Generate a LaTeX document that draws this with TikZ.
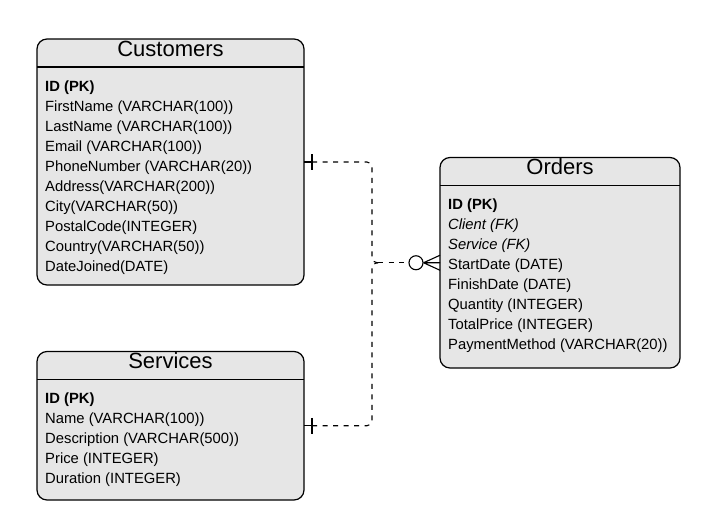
\documentclass[tikz,border=0pt]{standalone}
\usepackage{fontspec}
\setmainfont{Liberation Sans}
\definecolor{boxgray}{HTML}{E6E6E6}
\begin{document}
\begin{tikzpicture}[x=1pt,y=1pt,
  entity/.style={draw=black, fill=boxgray, rounded corners=10pt, line width=1.2pt, inner sep=0pt, outer sep=0pt, anchor=north west},
  hdrline/.style={line width=1.2pt},
  title/.style={anchor=base, inner sep=0pt, font=\fontsize{22}{26}\selectfont},
  row/.style={anchor=base west, inner sep=0pt, font=\fontsize{14.8}{20}\selectfont},
  rel/.style={line width=1.1pt, dash pattern=on 5pt off 5.5pt, rounded corners=5pt},
  solidrel/.style={line width=1.1pt}
]
\useasboundingbox (0,0) rectangle (713,-528);

% Customers
\node[entity, minimum width=267pt, minimum height=246pt] (cust) at (37,-39) {};
\draw[hdrline] ([yshift=-28pt]cust.north west) -- ([yshift=-28pt]cust.north east);
\node[title] (custT) at ([yshift=-17pt]cust.north) {Customers};
\node[row] (c0) at (45,-91.7) {\bfseries ID (PK)};
\foreach \t [count=\i] in {FirstName (VARCHAR(100)),LastName (VARCHAR(100)),Email (VARCHAR(100)),PhoneNumber (VARCHAR(20)),Address(VARCHAR(200)),City(VARCHAR(50)),PostalCode(INTEGER),Country(VARCHAR(50)),DateJoined(DATE)}
  \node[row] (c\i) at (45,-91.7-20*\i) {\t};

% Orders
\node[entity, minimum width=240pt, minimum height=210.5pt] (ord) at (440,-157.5) {};
\draw[hdrline] ([yshift=-28pt]ord.north west) -- ([yshift=-28pt]ord.north east);
\node[title] (ordT) at ([yshift=-17pt]ord.north) {Orders};
\node[row] (o0) at (448,-209.7) {\bfseries ID (PK)};
\node[row] (o1) at (448,-229.7) {\itshape Client (FK)};
\node[row] (o2) at (448,-249.7) {\itshape Service (FK)};
\foreach \t [count=\i from 3] in {StartDate (DATE),FinishDate (DATE),Quantity (INTEGER),TotalPrice (INTEGER),PaymentMethod (VARCHAR(20))}
  \node[row] (o\i) at (448,-209.7-20*\i) {\t};

% Services
\node[entity, minimum width=267pt, minimum height=148.5pt] (serv) at (37,-351.5) {};
\draw[hdrline] ([yshift=-28pt]serv.north west) -- ([yshift=-28pt]serv.north east);
\node[title] (servT) at ([yshift=-17pt]serv.north) {Services};
\node[row] (s0) at (45,-403.7) {\bfseries ID (PK)};
\foreach \t [count=\i] in {Name (VARCHAR(100)),Description (VARCHAR(500)),Price (INTEGER),Duration (INTEGER)}
  \node[row] (s\i) at (45,-403.7-20*\i) {\t};

% Relationships
\coordinate (mx) at (372,0);
\coordinate (jn) at (mx |- ord.west);
\node[circle, draw, line width=1.1pt, minimum size=14pt, inner sep=0pt, fill=white] (zc) at ([xshift=-24pt]ord.west) {};

\draw[solidrel] (cust.east) -- ([xshift=8pt]cust.east);
\draw[solidrel] ([xshift=8pt,yshift=8pt]cust.east) -- ([xshift=8pt,yshift=-8pt]cust.east);
\draw[rel] ([xshift=8pt]cust.east) -- (cust.east -| mx) -- (jn) -- ([xshift=6pt]jn);

\draw[solidrel] (serv.east) -- ([xshift=8pt]serv.east);
\draw[solidrel] ([xshift=8pt,yshift=8pt]serv.east) -- ([xshift=8pt,yshift=-8pt]serv.east);
\draw[rel] ([xshift=8pt]serv.east) -- (serv.east -| mx) -- (jn) -- ([xshift=6pt]jn);

\draw[rel] ([xshift=6pt]jn) -- (zc.west);
\draw[solidrel] (zc.east) -- ([yshift=7.5pt]ord.west)
                (zc.east) -- (ord.west)
                (zc.east) -- ([yshift=-7.5pt]ord.west);
\end{tikzpicture}
\end{document}
